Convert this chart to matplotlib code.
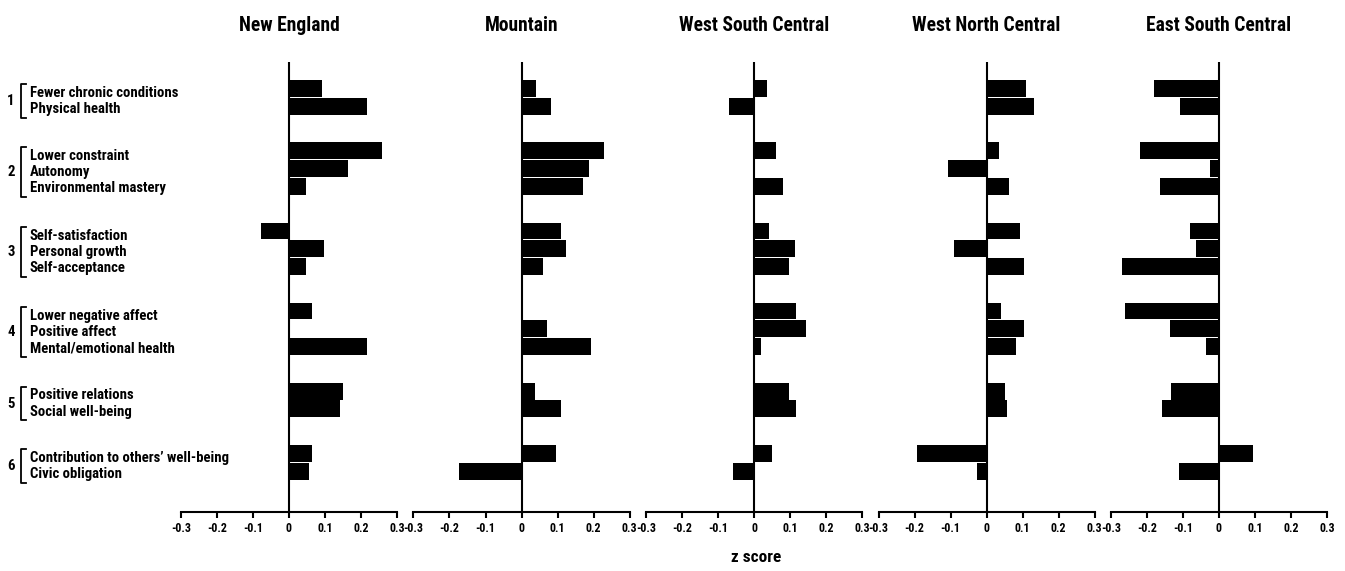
import os
import numpy as np
import matplotlib.pyplot as plt
from matplotlib import font_manager as fm
from matplotlib.textpath import TextToPath
from matplotlib.transforms import blended_transform_factory

# measures, grouped 1-6 in the left margin
measures = ["Fewer chronic conditions", "Physical health",
            "Lower constraint", "Autonomy", "Environmental mastery",
            "Self-satisfaction", "Personal growth", "Self-acceptance",
            "Lower negative affect", "Positive affect", "Mental/emotional health",
            "Positive relations", "Social well-being",
            "Contribution to others\u2019 well-being", "Civic obligation"]
groups = [1, 1, 2, 2, 2, 3, 3, 3, 4, 4, 4, 5, 5, 6, 6]

regions = ["New England", "Mountain", "West South Central",
           "West North Central", "East South Central"]

nan = np.nan
new_england = [0.091, 0.218, 0.259, 0.164, 0.048, -0.079, 0.096, 0.048,
               0.064, nan, 0.218, 0.150, 0.143, 0.064, 0.056]
mountain = [0.040, 0.082, 0.230, 0.188, 0.172, 0.111, 0.123, 0.060,
            nan, 0.070, 0.194, 0.038, 0.111, 0.096, -0.173]
west_south_central = [0.037, -0.070, 0.062, nan, 0.081, 0.042, 0.115, 0.097,
                      0.116, 0.145, 0.019, 0.097, 0.118, 0.051, -0.057]
west_north_central = [0.111, 0.132, 0.034, -0.106, 0.063, 0.094, -0.091, 0.103,
                      0.040, 0.103, 0.082, 0.052, 0.056, -0.192, -0.026]
east_south_central = [-0.180, -0.108, -0.219, -0.025, -0.164, -0.081, -0.064, -0.269,
                      -0.260, -0.135, -0.035, -0.134, -0.159, 0.094, -0.110]
series = [new_england, mountain, west_south_central, west_north_central, east_south_central]

xticks = [-0.3, -0.2, -0.1, 0, 0.1, 0.2, 0.3]
xticklabels = ["-0.3", "-0.2", "-0.1", "0", "0.1", "0.2", "0.3"]


# the original uses a condensed bold face - look for one that is installed
def find_condensed_bold():
    files = set(fm.findSystemFonts()) | {f.fname for f in fm.fontManager.ttflist}
    base = {os.path.basename(f).lower(): f for f in files}
    wanted = ["liberationsansnarrow-bold.ttf", "notosans-extracondensedbold.ttf",
              "robotocondensed-bold.ttf", "notosans-condensedbold.ttf",
              "dejavusanscondensed-bold.ttf", "opensans-condensedbold.ttf"]
    for w in wanted:
        if w in base:
            return fm.FontProperties(fname=base[w])
    for b, f in sorted(base.items()):
        if ("condensed" in b or "narrow" in b) and "bold" in b and "semi" not in b \
                and "extra" not in b and "italic" not in b and b.endswith(".ttf"):
            return fm.FontProperties(fname=f)
    return fm.FontProperties(family="DejaVu Sans", weight="bold")


font = find_condensed_bold()
ttp = TextToPath()


def fitted(s, target_px, max_pt):
    # font size that gives the text about the width it has in the picture
    p = font.copy()
    p.set_size(100)
    w, _, _ = ttp.get_text_width_height_descent(s, p, ismath=False)
    p.set_size(min(target_px * 72 / w, max_pt))
    return p


title_font = fitted("West South Central", 150, 15)
tick_font = fitted("-0.3", 20, 12)
label_font = fitted("Contribution to others\u2019 well-being", 198, 12.5)
xlab_font = fitted("z score", 50, 14)

# row positions: step 1 inside a group, wider gap between groups
pos = []
y = -1.0
for i, g in enumerate(groups):
    y += 1 if i == 0 or g == groups[i - 1] else 2.5
    pos.append(y)
pos = np.array(pos)

W, H = 1345, 571
fig = plt.figure(figsize=(W / 100, H / 100), dpi=100)

lefts = [181, 413.5, 646, 878.5, 1111]
axes = []
for left, name, vals in zip(lefts, regions, series):
    ax = fig.add_axes([left / W, 1 - 512 / H, 216 / W, 450 / H])
    vals = np.array(vals)
    ok = ~np.isnan(vals)
    ax.barh(pos[ok], vals[ok], height=0.95, color='black')
    ax.axvline(0, color='black', lw=1.5)
    ax.set_xlim(-0.3, 0.3)
    ax.set_ylim(23.8, -1.5)
    for s in ['top', 'left', 'right']:
        ax.spines[s].set_visible(False)
    ax.spines['bottom'].set_linewidth(1.5)
    ax.set_yticks([])
    ax.set_xticks(xticks)
    ax.set_xticklabels(xticklabels, fontproperties=tick_font)
    ax.tick_params(axis='x', direction='out', length=4, width=1.5, pad=3)
    ax.set_title(name, fontproperties=title_font, pad=22)
    axes.append(ax)

# left-margin labels with brackets and group numbers
trans = blended_transform_factory(fig.transFigure, axes[0].transData)
for g in sorted(set(groups)):
    idx = [i for i, gg in enumerate(groups) if gg == g]
    n = len(idx)
    c = pos[idx].mean() + 0.2
    for k, i in enumerate(idx):
        axes[0].text(30 / W, c + (k - (n - 1) / 2) * 0.9, measures[i], transform=trans,
                     ha='left', va='center', fontproperties=label_font, clip_on=False)
    top, bot = c - n * 0.45 - 0.05, c + n * 0.45 + 0.05
    axes[0].plot(np.array([26, 21, 21, 26]) / W, [top, top, bot, bot], color='black',
                 lw=1.3, transform=trans, clip_on=False)
    axes[0].text(11 / W, c, str(g), transform=trans, ha='center', va='center',
                 fontproperties=label_font, clip_on=False)

fig.text(756 / W, 1 - 558 / H, "z score", ha='center', va='center', fontproperties=xlab_font)

fig.savefig("out.png", dpi=100)
